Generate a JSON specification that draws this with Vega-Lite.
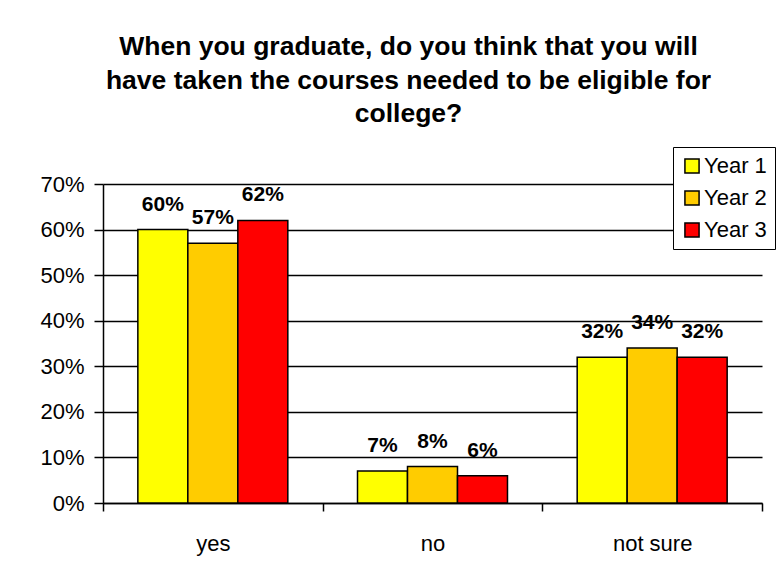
{
  "$schema": "https://vega.github.io/schema/vega-lite/v6.json",
  "width": 659,
  "height": 319,
  "autosize": {"type": "none"},
  "padding": {"left": 103, "top": 184, "right": 18, "bottom": 71},
  "background": "white",
  "title": {
    "text": ["When you graduate, do you think that you will", "have taken the courses needed to be eligible for", "college?"],
    "anchor": "middle",
    "frame": "group",
    "dx": -24,
    "offset": 19,
    "font": "Liberation Sans",
    "fontSize": 26.5,
    "fontWeight": "bold",
    "lineHeight": 33.5,
    "color": "black"
  },
  "data": {
    "values": [
      {"answer": "yes", "year": "Year 1", "value": 0.60, "label": "60%"},
      {"answer": "yes", "year": "Year 2", "value": 0.57, "label": "57%"},
      {"answer": "yes", "year": "Year 3", "value": 0.62, "label": "62%"},
      {"answer": "no", "year": "Year 1", "value": 0.07, "label": "7%"},
      {"answer": "no", "year": "Year 2", "value": 0.08, "label": "8%"},
      {"answer": "no", "year": "Year 3", "value": 0.06, "label": "6%"},
      {"answer": "not sure", "year": "Year 1", "value": 0.32, "label": "32%"},
      {"answer": "not sure", "year": "Year 2", "value": 0.34, "label": "34%"},
      {"answer": "not sure", "year": "Year 3", "value": 0.32, "label": "32%"}
    ]
  },
  "encoding": {
    "x": {
      "field": "answer",
      "type": "nominal",
      "sort": ["yes", "no", "not sure"],
      "scale": {"paddingInner": 0, "paddingOuter": 0},
      "axis": {
        "title": null,
        "labelAngle": 0,
        "labelFont": "Liberation Sans",
        "labelFontSize": 22,
        "labelColor": "black",
        "labelPadding": 22,
        "tickBand": "extent",
        "tickSize": 8,
        "tickColor": "black",
        "tickWidth": 1.5,
        "domainColor": "black",
        "domainWidth": 1.5,
        "grid": false
      }
    },
    "xOffset": {"field": "year", "type": "nominal", "scale": {"paddingInner": 0, "paddingOuter": 0.697}},
    "y": {
      "field": "value",
      "type": "quantitative",
      "scale": {"domain": [0, 0.7], "nice": false},
      "axis": {
        "title": null,
        "format": ".0%",
        "values": [0, 0.1, 0.2, 0.3, 0.4, 0.5, 0.6, 0.7],
        "labelFont": "Liberation Sans",
        "labelFontSize": 22,
        "labelColor": "black",
        "labelPadding": 10,
        "tickSize": 9,
        "tickColor": "black",
        "tickWidth": 1.5,
        "domainColor": "black",
        "domainWidth": 1.5,
        "grid": true,
        "gridColor": "black",
        "gridWidth": 1.3,
        "gridOpacity": 1
      }
    }
  },
  "layer": [
    {
      "mark": {"type": "bar", "stroke": "black", "strokeWidth": 1.5},
      "encoding": {
        "fill": {
          "field": "year",
          "type": "nominal",
          "scale": {"domain": ["Year 1", "Year 2", "Year 3"], "range": ["#FFFF00", "#FFCC00", "#FF0000"]},
          "legend": {
            "title": null,
            "orient": "none",
            "legendX": 570,
            "legendY": -37,
            "symbolType": "square",
            "symbolSize": 200,
            "symbolStrokeColor": "black",
            "symbolStrokeWidth": 1.5,
            "labelFont": "Liberation Sans",
            "labelFontSize": 22,
            "labelColor": "black",
            "labelOffset": 1,
            "rowPadding": 10,
            "padding": 8,
            "strokeColor": "black",
            "fillColor": "white"
          }
        }
      }
    },
    {
      "mark": {
        "type": "text",
        "dy": -25,
        "baseline": "middle",
        "align": "center",
        "font": "Liberation Sans",
        "fontSize": 21,
        "fontWeight": "bold",
        "color": "black"
      },
      "encoding": {
        "text": {"field": "label"}
      }
    }
  ],
  "config": {
    "view": {"stroke": null}
  }
}
